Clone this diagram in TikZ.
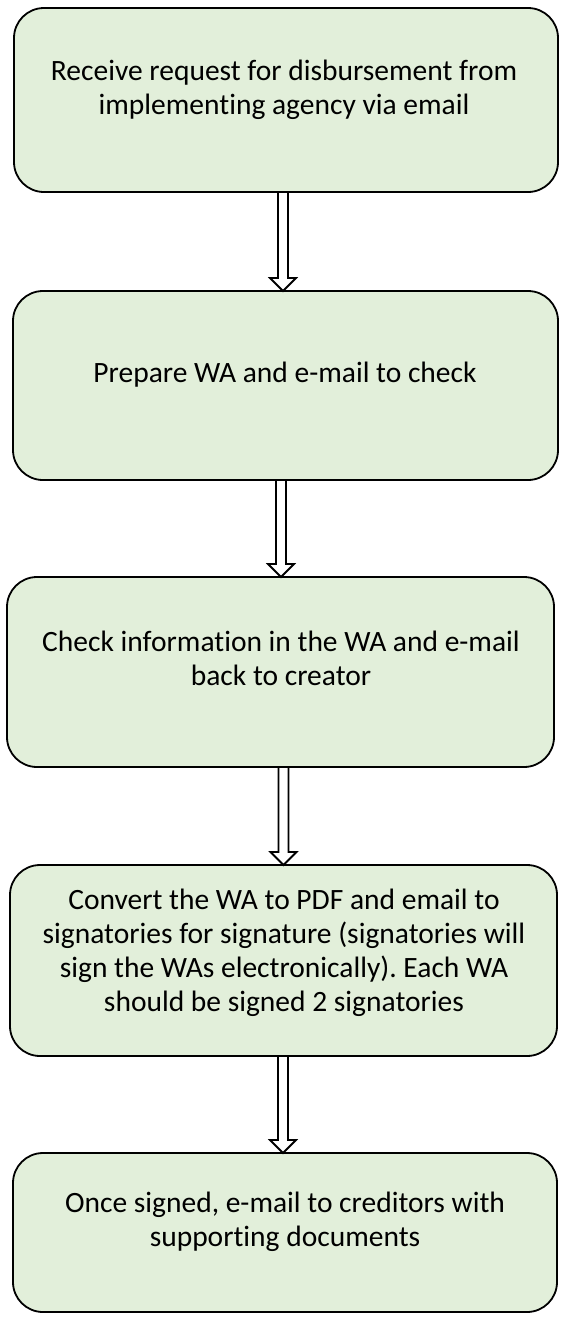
\documentclass[tikz,border=0pt]{standalone}
\usepackage{fontspec}
\setmainfont{Carlito}[Ligatures=NoCommon]
\usetikzlibrary{calc}
\definecolor{boxfill}{HTML}{E2EFDA}
\tikzset{
  stepbox/.style={draw=black, line width=1.8pt, fill=boxfill, rounded corners=30pt, inner sep=0pt, outer sep=0pt},
  steptext/.style={align=center, font=\fontsize{29.5}{34}\selectfont\frenchspacing, inner sep=0pt},
  harrow/.style={draw=black, line width=1.8pt, line join=miter},
}
\newcommand\flowarrow[3]{%
  \draw[harrow] let \p1=(#1.south), \p2=(#2.north) in
    (#3pt-5pt,\y1) -- (#3pt-5pt,\y2+13pt) -- (#3pt-13pt,\y2+13pt) -- (#3pt,\y2)
    -- (#3pt+13pt,\y2+13pt) -- (#3pt+5pt,\y2+13pt) -- (#3pt+5pt,\y1);}
\begin{document}
\begin{tikzpicture}[x=1pt,y=-1pt]
\path[use as bounding box, fill=white] (0,0) rectangle (560,1318);

\node[stepbox, minimum width=544pt, minimum height=184pt] (b1) at (286,100) {};
\node[stepbox, minimum width=545pt, minimum height=189pt] (b2) at (285.5,385.5) {};
\node[stepbox, minimum width=547pt, minimum height=190pt] (b3) at (280.5,672) {};
\node[stepbox, minimum width=547pt, minimum height=191pt] (b4) at (283.5,960.5) {};
\node[stepbox, minimum width=544pt, minimum height=159pt] (b5) at (285,1232.5) {};

\node[steptext] (t1) at (284,91) {\strut Receive request for disbursement from\\implementing agency via email\strut};
\node[steptext] (t2) at (285,376) {\strut Prepare WA and e-mail to check\strut};
\node[steptext] (t3) at (281,661.5) {\strut Check information in the WA and e-mail\\back to creator\strut};
\node[steptext] (t4) at (284,954) {\strut Convert the WA to PDF and email to\\signatories for signature (signatories will\\sign the WAs electronically). Each WA\\should be signed 2 signatories\strut};
\node[steptext] (t5) at (285,1223) {\strut Once signed, e-mail to creditors with\\supporting documents\strut};

\flowarrow{b1}{b2}{283}
\flowarrow{b2}{b3}{281}
\flowarrow{b3}{b4}{283.5}
\flowarrow{b4}{b5}{283}
\end{tikzpicture}
\end{document}
